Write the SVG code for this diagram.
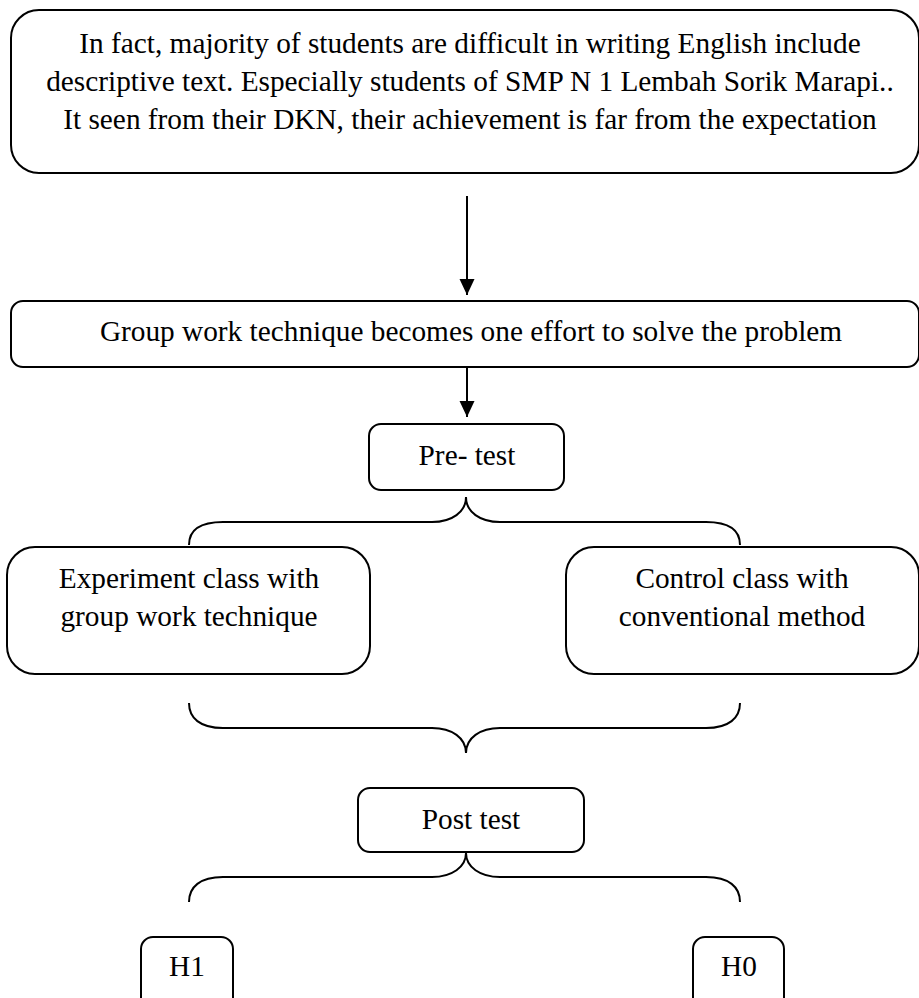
<svg xmlns="http://www.w3.org/2000/svg" width="919" height="998" viewBox="0 0 919 998">
<style>
.box{fill:#fff;stroke:#000;stroke-width:2}
.t{font-family:"Liberation Serif","Times New Roman",serif;font-size:29.3px;fill:#000;text-anchor:middle}
.c{fill:none;stroke:#000;stroke-width:2}
</style>
<defs>
<marker id="ah" markerUnits="userSpaceOnUse" markerWidth="16" markerHeight="16" refX="16" refY="7.5" orient="auto">
<path d="M0,0 L16,7.5 L0,15 z" fill="#000"/>
</marker>
</defs>
<rect width="919" height="998" fill="#fff"/>
<g id="connectors">
<line class="c" x1="467" y1="196" x2="467" y2="295" marker-end="url(#ah)"/>
<line class="c" x1="467" y1="367" x2="467" y2="417" marker-end="url(#ah)"/>
<path class="c" d="M189,545 C189,530 200,522 223,522 L432,522 C452,522 466,512 466,497 C466,512 480,522 500,522 L706,522 C729,522 740,530 740,545"/>
<path class="c" d="M189,703 C189,718 200,728 223,728 L432,728 C452,728 466,738 466,753 C466,738 480,728 500,728 L706,728 C729,728 740,718 740,703"/>
<path class="c" d="M189,902 C189,887 200,877 223,877 L432,877 C452,877 466,867 466,853 C466,867 480,877 500,877 L706,877 C729,877 740,887 740,902"/>
</g>
<g id="problem">
<rect class="box" x="11" y="10" width="908" height="163" rx="28"/>
<text class="t" x="470" y="53">In fact, majority of students are difficult in writing English include</text>
<text class="t" x="470" y="91">descriptive text. Especially students of SMP N 1 Lembah Sorik Marapi..</text>
<text class="t" x="470" y="129">It seen from their DKN, their achievement is far from the expectation</text>
</g>
<g id="groupwork">
<rect class="box" x="11" y="301" width="908" height="66" rx="12"/>
<text class="t" x="471" y="341">Group work technique becomes one effort to solve the problem</text>
</g>
<g id="pretest">
<rect class="box" x="369" y="424" width="195" height="66" rx="12"/>
<text class="t" x="467" y="465">Pre- test</text>
</g>
<g id="experiment">
<rect class="box" x="7" y="547" width="363" height="127" rx="28"/>
<text class="t" x="189" y="588">Experiment class with</text>
<text class="t" x="189" y="626">group work technique</text>
</g>
<g id="control">
<rect class="box" x="566" y="547" width="353" height="127" rx="28"/>
<text class="t" x="742" y="588">Control class with</text>
<text class="t" x="742" y="626">conventional method</text>
</g>
<g id="posttest">
<rect class="box" x="358" y="788" width="226" height="64" rx="12"/>
<text class="t" x="471" y="829">Post test</text>
</g>
<g id="h1">
<rect class="box" x="141" y="937" width="92" height="75" rx="12"/>
<text class="t" x="187" y="976">H1</text>
</g>
<g id="h0">
<rect class="box" x="693" y="937" width="91" height="75" rx="12"/>
<text class="t" x="739" y="976">H0</text>
</g>
</svg>
